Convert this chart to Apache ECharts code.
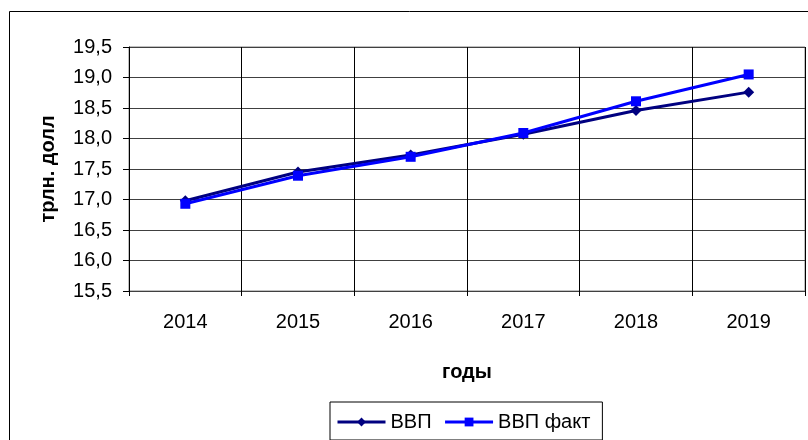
<!DOCTYPE html>
<html>
<head>
<meta charset="utf-8">
<script src="https://cdn.jsdelivr.net/npm/echarts@6/dist/echarts.min.js"></script>
<style>
  html, body { margin: 0; padding: 0; background: #fff; }
  #chart { width: 808px; height: 440px; }
</style>
</head>
<body>
<div id="chart"></div>
<script>
const years = ['2014', '2015', '2016', '2017', '2018', '2019']
const gdpPlan = [16.98, 17.45, 17.73, 18.07, 18.46, 18.76]
const gdpFact = [16.93, 17.39, 17.70, 18.09, 18.61, 19.05]
const seriesNames = ['ВВП', 'ВВП факт']

const font = 'Liberation Sans, Arial, sans-serif'
const chart = echarts.init(document.getElementById('chart'))

const option = {
  animation: false,
  textStyle: { fontFamily: font },
  graphic: [
    {
      type: 'rect',
      shape: { x: 9.5, y: 11.5, width: 830, height: 460 },
      style: { fill: 'none', stroke: '#000', lineWidth: 1 },
      z: -1
    }
  ],
  grid: {
    left: 129,
    right: 3,
    top: 47,
    bottom: 149,
    show: true,
    borderColor: '#808080',
    borderWidth: 1
  },
  legend: {
    left: 330,
    top: 402,
    itemWidth: 48,
    itemHeight: 11,
    itemGap: 12,
    padding: [10, 12, 8, 6],
    borderColor: '#000',
    borderWidth: 1,
    lineStyle: { width: 3 },
    textStyle: { fontSize: 20, color: '#000', fontFamily: font },
    data: seriesNames
  },
  xAxis: {
    type: 'category',
    data: years,
    boundaryGap: true,
    name: 'годы',
    nameLocation: 'middle',
    nameGap: 71,
    nameTextStyle: { fontSize: 20, fontWeight: 'bold', color: '#000' },
    axisLine: { lineStyle: { color: '#404040', width: 1 } },
    axisTick: { show: true, length: 5, lineStyle: { color: '#000' } },
    axisLabel: { fontSize: 20, color: '#000', margin: 21 },
    splitLine: { show: true, lineStyle: { color: '#000', width: 1 } }
  },
  yAxis: {
    type: 'value',
    min: 15.5,
    max: 19.5,
    interval: 0.5,
    name: 'трлн. долл',
    nameLocation: 'middle',
    nameGap: 71,
    nameTextStyle: { fontSize: 20, fontWeight: 'bold', color: '#000' },
    axisLine: { show: true, lineStyle: { color: '#000', width: 1 } },
    axisTick: { show: true, length: 6, lineStyle: { color: '#000' } },
    axisLabel: {
      fontSize: 20,
      color: '#000',
      margin: 17,
      formatter: v => v.toFixed(1).replace('.', ',')
    },
    splitLine: { show: true, lineStyle: { color: '#404040', width: 1 } }
  },
  series: [
    {
      name: seriesNames[0],
      type: 'line',
      data: gdpPlan,
      symbol: 'diamond',
      symbolSize: 11,
      lineStyle: { color: '#000080', width: 3 },
      itemStyle: { color: '#000080' },
      z: 3
    },
    {
      name: seriesNames[1],
      type: 'line',
      data: gdpFact,
      symbol: 'rect',
      symbolSize: 10,
      lineStyle: { color: '#0000ff', width: 3 },
      itemStyle: { color: '#0000ff' },
      z: 4
    }
  ]
}

chart.setOption(option)
</script>
</body>
</html>
